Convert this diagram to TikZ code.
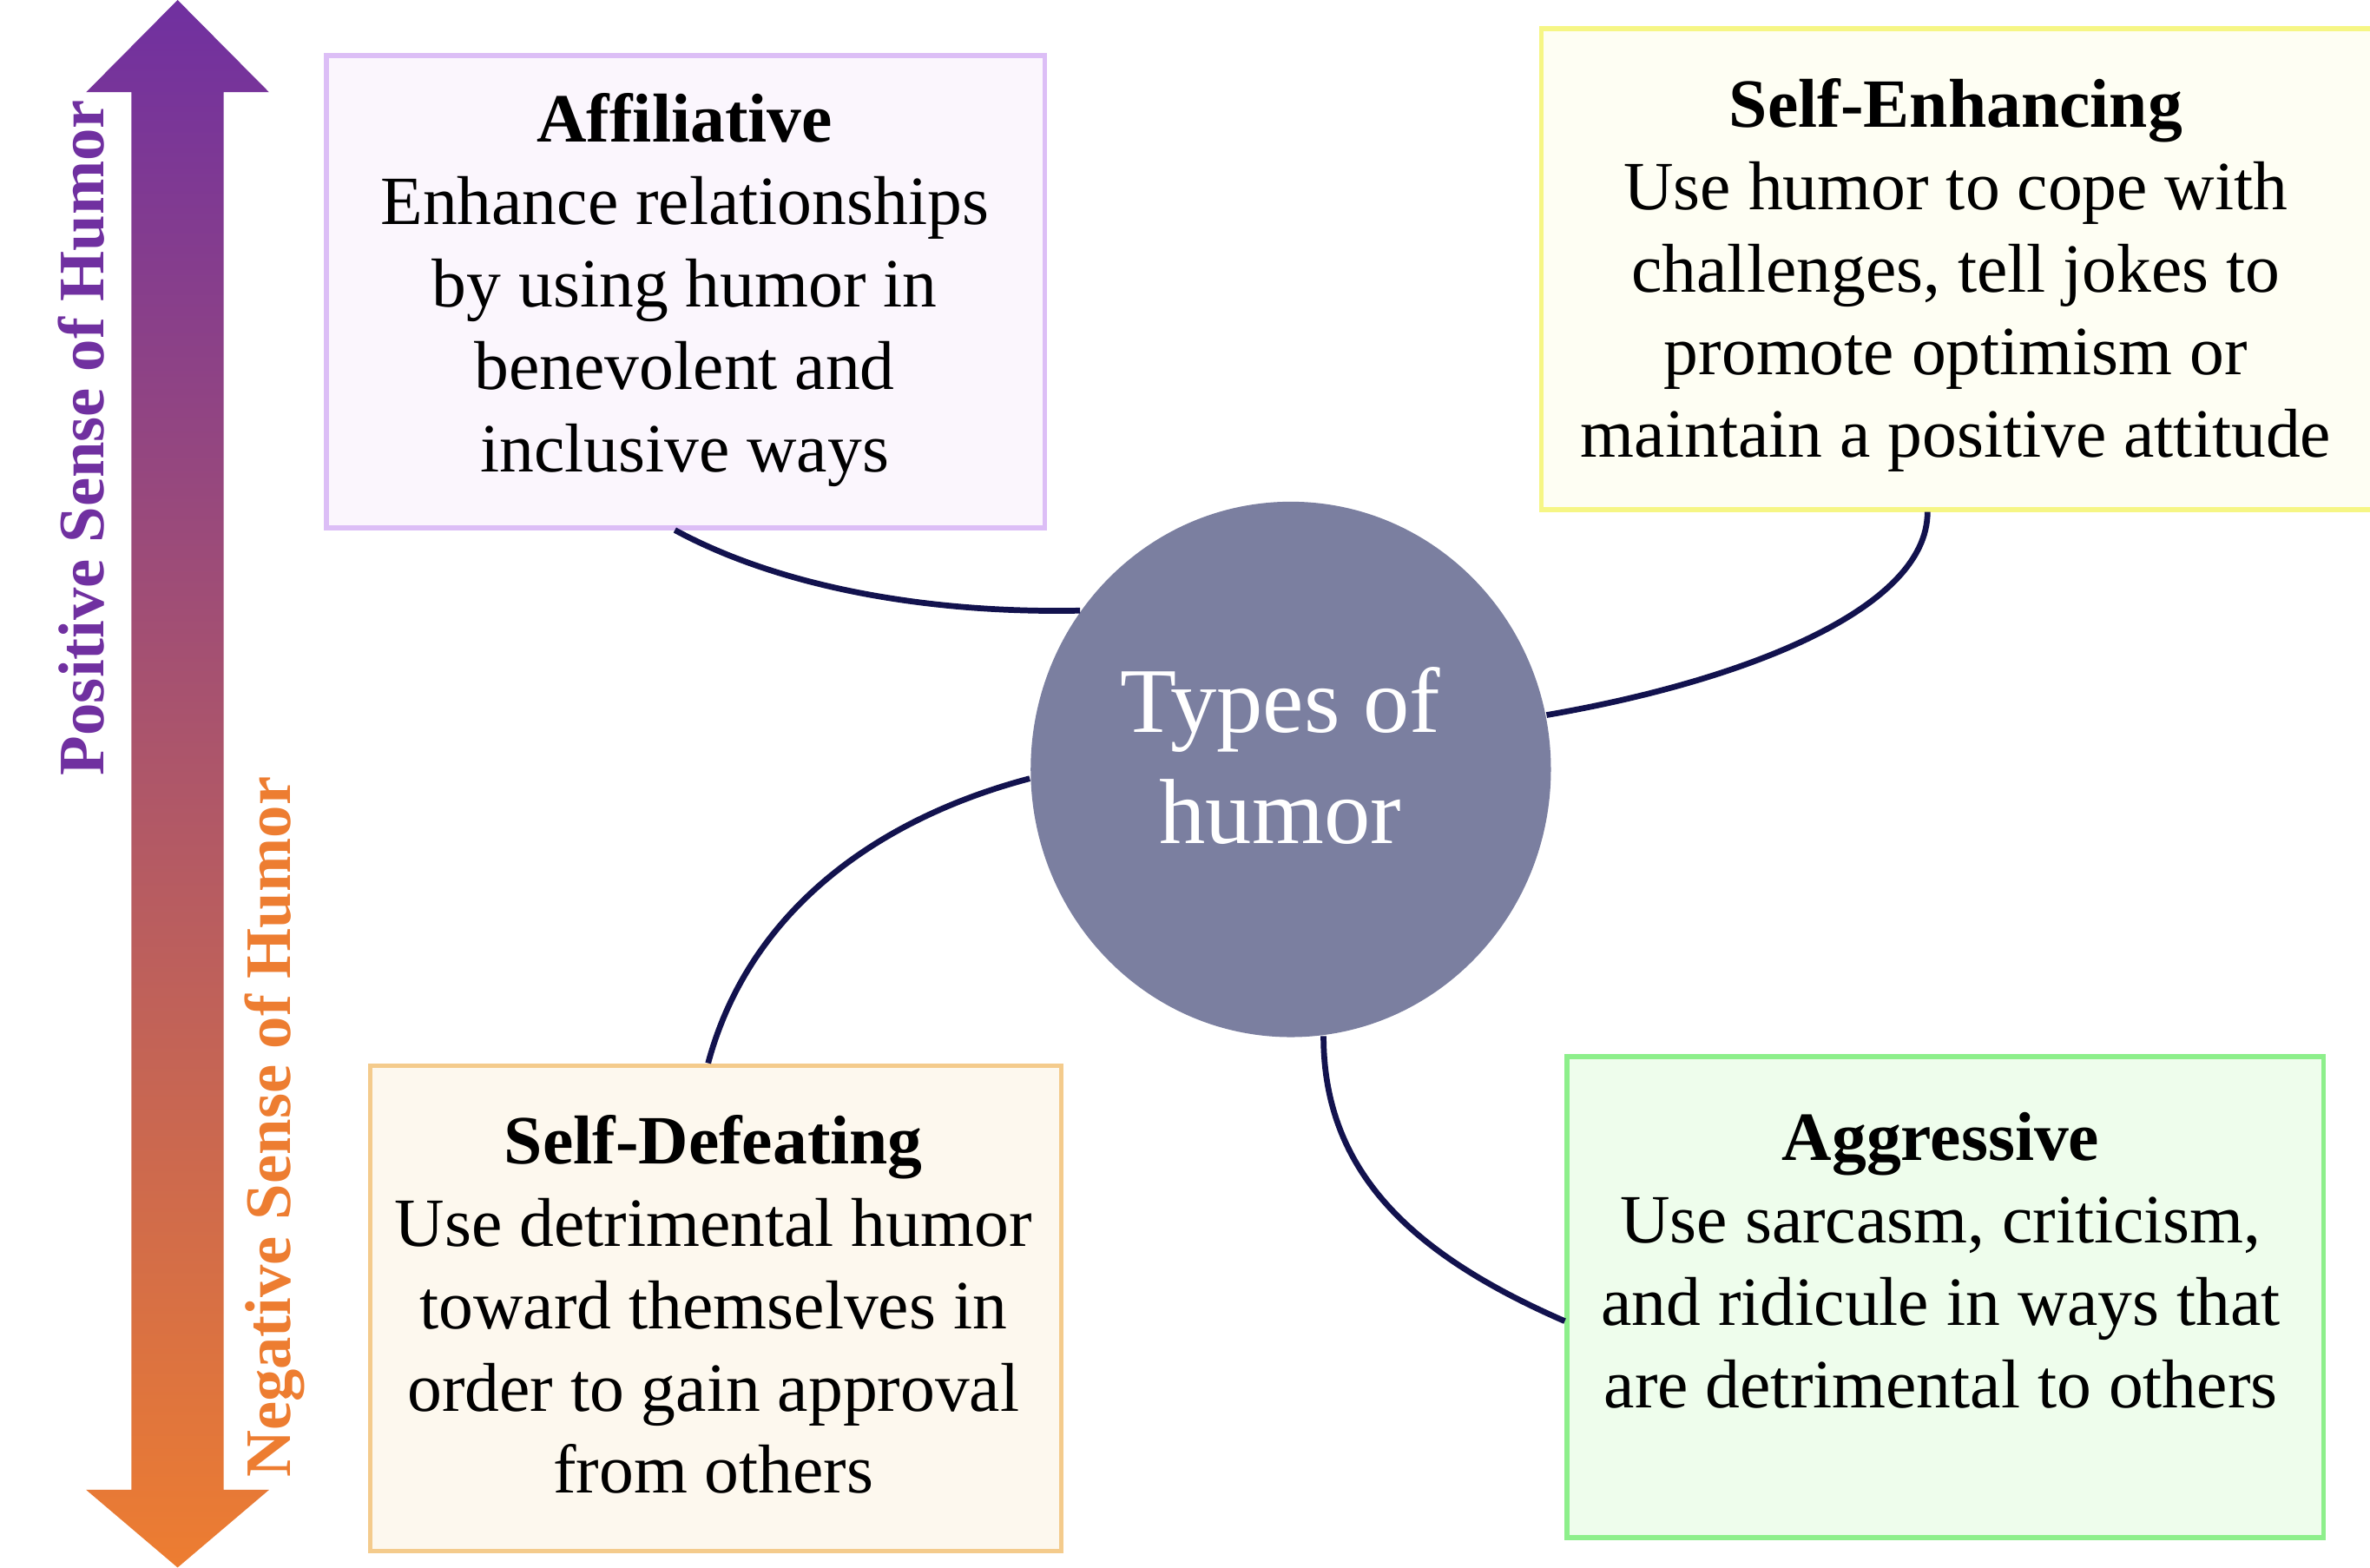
\documentclass[tikz,border=0pt]{standalone}
\usepackage{fontspec}
\setmainfont{Liberation Serif}
\usetikzlibrary{shapes.geometric,calc}

\definecolor{posC}{HTML}{7030A0}
\definecolor{negC}{HTML}{ED7D31}
\definecolor{hubC}{HTML}{7B7FA0}
\definecolor{linkC}{HTML}{12124E}
\definecolor{affLine}{HTML}{DCBEF6}
\definecolor{affFill}{HTML}{FBF6FD}
\definecolor{enhLine}{HTML}{F6F685}
\definecolor{enhFill}{HTML}{FEFEF3}
\definecolor{defLine}{HTML}{F4CB8C}
\definecolor{defFill}{HTML}{FDF8EE}
\definecolor{aggLine}{HTML}{8DEF8B}
\definecolor{aggFill}{HTML}{EEFDEC}

\begin{document}
\begin{tikzpicture}[x=0.01cm,y=-0.01cm,
  card/.style={rectangle, draw=#1Line, fill=#1Fill, line width=0.9pt, inner sep=0pt},
  cardtext/.style={align=center, inner sep=0pt, text=black,
    font=\fontsize{13}{15.5}\selectfont},
  hub/.style={ellipse, fill=hubC, minimum width=3.44cm, minimum height=3.54cm, inner sep=0pt},
  hubtext/.style={align=center, inner sep=0pt, text=white,
    font=\fontsize{17.4}{20.8}\selectfont},
  link/.style={draw=linkC, line width=1.1pt},
  axislabel/.style={rotate=90, inner sep=0pt, font=\bfseries\fontsize{12.2}{14}\selectfont}]

% canvas
\fill[white] (0,0) rectangle (1568,1037);
\useasboundingbox (0,0) rectangle (1568,1037);

% double-headed gradient arrow on the left
\shade[top color=posC, bottom color=negC]
  (117.5,0) -- (178,61) -- (148,61) -- (148,985.6) -- (178,985.6) -- (117.5,1037)
  -- (57,985.6) -- (87,985.6) -- (87,61) -- (57,61) -- cycle;
\node[axislabel, text=posC] (posLabel) at (54,289.5) {Positive Sense of Humor};
\node[axislabel, text=negC] (negLabel) at (181.5,745.7) {Negative Sense of Humor};

% the four humor styles
\node[card=aff, minimum width=4.75cm, minimum height=3.12cm] (aff) at (453.5,193) {};
\node[card=enh, minimum width=5.6cm, minimum height=3.18cm] (enh) at (1300,178) {};
\node[card=def, minimum width=4.57cm, minimum height=3.21cm] (def) at (473.5,865.5) {};
\node[card=agg, minimum width=5.0cm, minimum height=3.18cm] (agg) at (1287,858) {};

\node[cardtext] (affText) at (453,192)
  {\textbf{Affiliative}\\Enhance relationships\\by using humor in\\benevolent and\\inclusive ways};
\node[cardtext] (enhText) at (1294,182)
  {\textbf{Self-Enhancing}\\Use humor to cope with\\challenges, tell jokes to\\promote optimism or\\maintain a positive attitude};
\node[cardtext] (defText) at (472,863)
  {\textbf{Self-Defeating}\\Use detrimental humor\\toward themselves in\\order to gain approval\\from others};
\node[cardtext] (aggText) at (1284,834)
  {\textbf{Aggressive}\\Use sarcasm, criticism,\\and ridicule in ways that\\are detrimental to others};

% central hub
\node[hub] (hub) at (854,509) {};
\node[hubtext] (hubText) at (847,500) {Types of\\humor};

% curved links from the hub to each style
\draw[link] ($(aff.south)+(-7,0)$) .. controls +(70,38) and +(-100,2) .. (hub.143.6);
\draw[link] ($(enh.south west)+(257,0)$) .. controls +(0,65) and +(128,-22) .. (hub.12.3);
\draw[link] (hub.182.7) .. controls +(-106,28) and +(26,-97) .. ($(def.north)+(-5,0)$);
\draw[link] (hub.277.8) .. controls +(0,90) and +(-101,-44) .. ($(agg.west)+(0,16)$);

\end{tikzpicture}
\end{document}
